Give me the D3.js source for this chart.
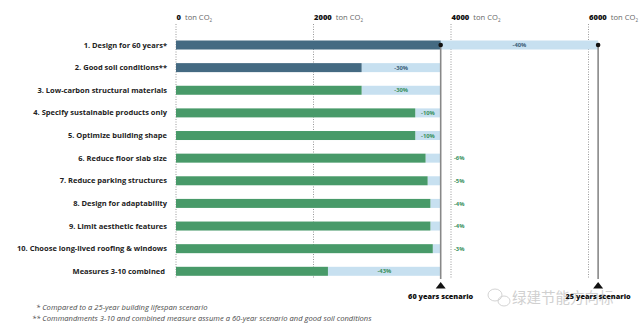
<!DOCTYPE html>
<html lang="en">
<head>
    <meta charset="UTF-8">
    <title>Embodied carbon measures</title>
    <script src="https://d3js.org/d3.v7.min.js"></script>
    <style>
        body{
            margin: 0;
            background: white;
            font-family: "Open Sans", Arial, sans-serif;
        }
        svg{
            display: block;
        }
        .cat{
            font-size: 7.5px;
            font-weight: 700;
            fill: #222;
        }
        .pct{
            font-size: 5.8px;
            font-weight: 700;
        }
        .note{
            font-size: 7.6px;
            font-style: italic;
            fill: #4a4a4a;
        }
    </style>
</head>
<body>
<svg></svg>
<script>
    const width = 640;
    const height = 332;

    // data
    const categories = [
        '1.  Design for 60 years*',
        '2. Good soil conditions**',
        '3. Low-carbon structural materials',
        '4. Specify sustainable products only',
        '5. Optimize building shape',
        '6. Reduce floor slab size',
        '7. Reduce parking structures',
        '8. Design for adaptability',
        '9. Limit aesthetic features',
        '10. Choose long-lived roofing & windows',
        'Measures 3-10 combined'
    ];
    const values = [3850, 2700, 2700, 3480, 3480, 3630, 3660, 3700, 3700, 3735, 2210];
    const reductions = ['-40%', '-30%', '-30%', '-10%', '-10%', '-6%', '-5%', '-4%', '-4%', '-3%', '-43%'];
    const groups = ['blue', 'blue', 'green', 'green', 'green', 'green', 'green', 'green', 'green', 'green', 'green'];
    const scenario60 = 3850;
    const scenario25 = 6140;
    const ticks = [0, 2000, 4000, 6000];
    const scenarioLabels = ['60 years scenario', '25 years scenario'];

    const colors = {blue: '#446a82', green: '#489a69', light: '#c7e0f0'};
    const textColors = {blue: '#3d6279', green: '#3a9160'};

    const svg = d3.select('svg')
        .attr('width', width)
        .attr('height', height);

    const x = d3.scaleLinear().domain([0, 6000]).range([176, 588.5]);
    const y = d3.scalePoint().domain(categories).range([45, 271.3]);
    const barH = 9;

    /* dotted grid lines */
    svg.selectAll('.grid')
        .data(ticks)
        .enter().append('line')
        .attr('x1', d => x(d)).attr('x2', d => x(d))
        .attr('y1', 24).attr('y2', 278)
        .attr('stroke', '#999')
        .attr('stroke-width', 1)
        .attr('stroke-dasharray', '1,1.5');

    /* top axis labels */
    const tickLab = svg.selectAll('.tick')
        .data(ticks)
        .enter().append('text')
        .attr('x', d => x(d) + 0.5)
        .attr('y', 20)
        .style('font-size', '7.6px');
    tickLab.append('tspan').attr('font-weight', 800).attr('fill', '#111').text(d => d);
    tickLab.append('tspan').attr('fill', '#666').attr('dx', 4).text('ton CO');
    tickLab.append('tspan').attr('fill', '#666').style('font-size', '4.5px').attr('dy', 1.5).text('2');

    const rows = categories.map((c, i) => ({cat: c, value: values[i], pct: reductions[i], group: groups[i]}));

    /* light blue reduction bars */
    svg.selectAll('.light')
        .data(rows)
        .enter().append('rect')
        .attr('x', (d, i) => i === 0 ? x(scenario60) : x(d.value))
        .attr('y', d => y(d.cat) - barH / 2)
        .attr('width', (d, i) => i === 0 ? x(scenario25) - x(scenario60) : x(scenario60) - x(d.value))
        .attr('height', barH)
        .attr('fill', colors.light);

    /* main bars */
    svg.selectAll('.bar')
        .data(rows)
        .enter().append('rect')
        .attr('x', x(0))
        .attr('y', d => y(d.cat) - barH / 2)
        .attr('width', d => x(d.value) - x(0))
        .attr('height', barH)
        .attr('fill', d => colors[d.group]);

    /* category labels */
    svg.selectAll('.cat')
        .data(rows)
        .enter().append('text')
        .attr('class', 'cat')
        .attr('x', (d, i) => i === rows.length - 1 ? 165 : 167)
        .attr('y', d => y(d.cat) + 2.6)
        .attr('text-anchor', 'end')
        .text(d => d.cat);

    /* percentage labels */
    svg.selectAll('.pct')
        .data(rows)
        .enter().append('text')
        .attr('class', 'pct')
        .attr('x', (d, i) => {
            if (i === 0) return (x(scenario60) + x(scenario25)) / 2;
            if (x(scenario60) - x(d.value) < 20) return x(4000) + 3;
            return (x(d.value) + x(scenario60)) / 2;
        })
        .attr('text-anchor', (d, i) => (i > 0 && x(scenario60) - x(d.value) < 20) ? 'start' : 'middle')
        .attr('y', d => y(d.cat) + 2.1)
        .attr('fill', d => textColors[d.group])
        .text(d => d.pct);

    /* scenario lines */
    const scen = [scenario60, scenario25];
    svg.selectAll('.scen')
        .data(scen)
        .enter().append('line')
        .attr('x1', d => x(d)).attr('x2', d => x(d))
        .attr('y1', y(categories[0])).attr('y2', 279)
        .attr('stroke', '#888')
        .attr('stroke-width', 1.6);

    svg.selectAll('.dot')
        .data(scen)
        .enter().append('circle')
        .attr('cx', d => x(d))
        .attr('cy', y(categories[0]))
        .attr('r', 2.3)
        .attr('fill', '#111');

    svg.selectAll('.tri')
        .data(scen)
        .enter().append('path')
        .attr('d', d => `M${x(d) - 5},288.5 L${x(d) + 5},288.5 L${x(d)},282 Z`)
        .attr('fill', '#111');

    /* watermark */
    const wm = svg.append('g').attr('fill', 'none').attr('stroke', '#d4d4d4').attr('stroke-width', 1);
    wm.append('ellipse').attr('cx', 495).attr('cy', 295).attr('rx', 7).attr('ry', 6);
    wm.append('ellipse').attr('cx', 504).attr('cy', 301).attr('rx', 6).attr('ry', 5);
    svg.append('text')
        .attr('x', 512)
        .attr('y', 303)
        .attr('fill', '#d0d0d0')
        .style('font-family', '"Noto Sans CJK SC", sans-serif')
        .style('font-size', '14.5px')
        .text('绿建节能方向标');

    svg.selectAll('.scenLab')
        .data(scen)
        .enter().append('text')
        .attr('x', d => x(d))
        .attr('y', 299)
        .attr('text-anchor', 'middle')
        .style('font-size', '7.3px')
        .style('font-weight', 800)
        .attr('fill', '#111')
        .text((d, i) => scenarioLabels[i]);

    /* footnotes */
    svg.append('text').attr('class', 'note').attr('x', 36).attr('y', 309.5)
        .text('*  Compared to a 25-year building lifespan scenario');
    svg.append('text').attr('class', 'note').attr('x', 32).attr('y', 320.5)
        .text('**  Commandments 3-10 and combined measure assume a 60-year scenario and good soil conditions');
</script>
</body>
</html>
